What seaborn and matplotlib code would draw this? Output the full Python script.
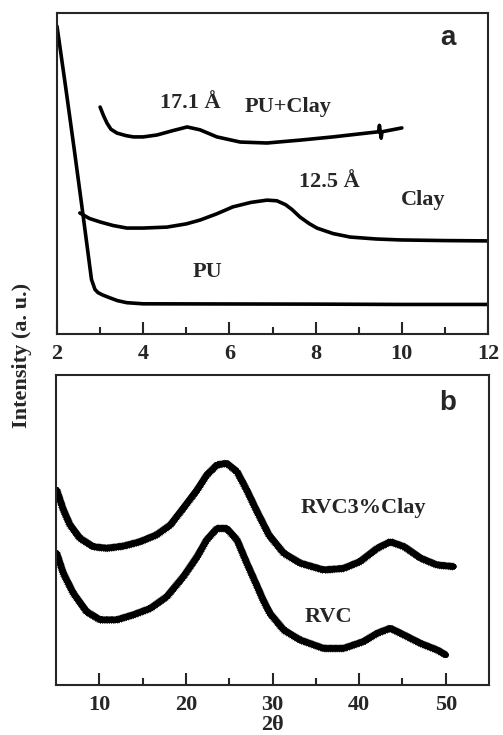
import numpy as np
import pandas as pd
import matplotlib
matplotlib.use('Agg')
import matplotlib.pyplot as plt
import matplotlib.patheffects as pe
import seaborn as sns

# Panel a: low-angle XRD (2theta 2-12)
pu_x = [2.0, 2.2, 2.4, 2.6, 2.8, 2.88, 2.95, 3.05, 3.2, 3.4, 3.62, 4.0, 6.0, 8.0, 10.0, 12.0]
pu_y = [95.9, 77.0, 57.5, 37.5, 17.0, 13.9, 12.9, 12.2, 11.4, 10.4, 9.75, 9.4, 9.35, 9.3, 9.2, 9.2]

clay_x = [2.53, 2.75, 3.0, 3.3, 3.62, 4.0, 4.55, 5.0, 5.32, 5.7, 6.08, 6.5, 6.87, 7.1, 7.3, 7.45, 7.64,
          7.85, 8.03, 8.4, 8.8, 9.4, 9.96, 11.0, 12.0]
clay_y = [37.7, 36.0, 34.9, 33.8, 33.0, 33.0, 33.3, 34.3, 35.5, 37.4, 39.6, 41.0, 41.7, 41.5, 40.3, 38.8, 36.4,
          34.4, 33.0, 31.3, 30.2, 29.6, 29.3, 29.1, 29.0]

puclay_x = [3.0, 3.08, 3.16, 3.25, 3.39, 3.6, 3.77, 4.0, 4.32, 4.7, 5.02, 5.32, 5.71, 6.25, 6.87,
            7.64, 8.4, 9.19, 9.46, 9.48, 9.52, 9.54, 10.0]
puclay_y = [70.7, 68.0, 65.7, 63.8, 62.6, 61.8, 61.4, 61.4, 62.0, 63.4, 64.5, 63.6, 61.4, 59.8, 59.5,
            60.4, 61.4, 62.6, 63.0, 65.0, 61.0, 63.0, 64.2]

# Panel b: wide-angle XRD (2theta 5-51)
rvc_clay_x = [5.08, 5.85, 6.62, 7.77, 9.3, 10.86, 12.8, 14.7, 16.6, 18.2, 19.7, 21.3, 22.4, 23.6,
              24.7, 25.9, 27.0, 28.2, 29.6, 31.3, 33.2, 35.9, 38.2, 40.1, 42.1, 43.6, 45.2, 47.1,
              49.0, 50.9]
rvc_clay_y = [62.9, 56.5, 51.6, 47.3, 44.6, 44.1, 44.8, 46.2, 48.4, 51.6, 57.0, 62.9, 67.7, 71.0,
              71.5, 68.8, 63.0, 56.0, 48.3, 42.5, 39.3, 37.1, 37.6, 39.8, 44.1, 46.2, 44.6, 40.9,
              38.7, 38.2]

rvc_x = [5.08, 5.85, 7.0, 8.55, 10.1, 12.0, 13.9, 15.9, 17.8, 19.7, 21.3, 22.4, 23.6, 24.7, 25.9,
         27.0, 28.2, 28.9, 29.7, 31.3, 33.2, 35.9, 38.2, 40.5, 42.1, 43.6, 45.2, 47.1, 49.0, 50.0]
rvc_y = [42.5, 36.0, 29.6, 23.6, 21.0, 21.0, 22.6, 24.7, 28.5, 34.9, 41.4, 46.8, 50.5, 50.5, 46.8,
         39.5, 32.0, 27.5, 23.1, 17.7, 14.5, 11.8, 11.8, 14.0, 16.7, 18.3, 16.1, 13.4, 11.3, 9.7]

ticks_a = [2, 4, 6, 8, 10, 12]
ticks_b = [10, 20, 30, 40, 50]

sns.set_style('ticks')
plt.rcParams['font.family'] = ['Liberation Serif', 'DejaVu Serif']
plt.rcParams['font.weight'] = 'bold'
plt.rcParams['axes.linewidth'] = 1.5

fig = plt.figure(figsize=(5.03, 7.35), dpi=100)
ax1 = fig.add_axes([0.1133, 0.5456, 0.857, 0.4367])
ax2 = fig.add_axes([0.1113, 0.068, 0.861, 0.4218])

for x, y in [(pu_x, pu_y), (clay_x, clay_y), (puclay_x, puclay_y)]:
    sns.lineplot(x=x, y=y, ax=ax1, color='black', linewidth=2.6, sort=False, estimator=None)

for x, y in [(rvc_clay_x, rvc_clay_y), (rvc_x, rvc_y)]:
    sns.lineplot(x=x, y=y, ax=ax2, color='black', linewidth=4.3, sort=False, estimator=None)
# fuzzy edges to mimic the noisy wide-angle scans
for line in ax2.lines:
    line.set_solid_joinstyle('round')
    line.set_path_effects([
        pe.Normal(),
        pe.withTickedStroke(angle=90, spacing=0.9, length=2.8, linewidth=0.6),
        pe.withTickedStroke(angle=-90, spacing=1.3, length=2.0, linewidth=0.6),
    ])

ax1.set_xlim(2, 12)
ax1.set_ylim(0, 100)
ax2.set_xlim(5, 55)
ax2.set_ylim(0, 100)

for ax, ticks in [(ax1, ticks_a), (ax2, ticks_b)]:
    ax.set_xticks(ticks)
    ax.set_xticklabels([str(t) for t in ticks], fontsize=16, fontweight='bold')
    ax.set_yticks([])
    ax.tick_params(axis='x', which='major', direction='in', length=9, width=1.5, pad=7)
    ax.tick_params(axis='x', which='minor', direction='in', length=5, width=1.5)
    for s in ax.spines.values():
        s.set_visible(True)
        s.set_linewidth(1.5)
ax1.set_xticks([3, 5, 7, 9, 11], minor=True)
ax2.set_xticks([15, 25, 35, 45], minor=True)

txt = dict(fontsize=16, fontweight='bold', ha='center', va='center')
ax1.text(5.1, 72, '17.1 Å', **txt)
ax1.text(7.35, 70.7, 'PU+Clay', **txt)
ax1.text(8.31, 47.4, '12.5 Å', **txt)
ax1.text(10.5, 41.7, 'Clay', **txt)
ax1.text(5.5, 19.3, 'PU', **txt)
ax1.text(11.07, 92.2, 'a', fontsize=20, fontweight='bold', ha='center', va='center',
         family='Liberation Sans')

ax2.text(40.5, 57, 'RVC3%Clay', **txt)
ax2.text(36.4, 22, 'RVC', **txt)
ax2.text(50.2, 91, 'b', fontsize=20, fontweight='bold', ha='center', va='center',
         family='Liberation Sans')

ax2.set_xlabel('2θ', fontsize=16, fontweight='bold', labelpad=0)
ax1.set_xlabel('')
fig.text(0.044, 0.517, 'Intensity (a. u.)', rotation=90, fontsize=16, fontweight='bold',
         ha='center', va='center')

fig.savefig('out.png', dpi=100)
